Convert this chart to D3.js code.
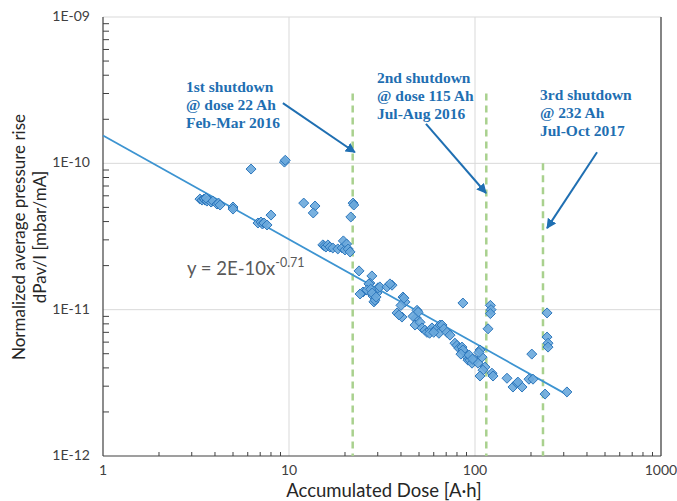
<!DOCTYPE html>
<html><head><meta charset="utf-8">
<script src="https://cdn.jsdelivr.net/npm/d3@7"></script>
<style>body{margin:0;background:#fff}svg{display:block}</style>
</head><body>
<svg id="c" width="677" height="501"></svg>
<script>
// ---- data ----
const doseAh = [
 3.32,3.41,3.49,3.54,3.62,3.71,3.81,3.90,3.58,
 4.10,4.18,4.26,5.00,5.00,6.25,
 6.81,7.07,7.20,7.34,7.62,8.00,9.45,9.55,
 12.0,13.8,13.5,
 15.2,15.5,15.8,16.2,16.6,17.2,18.3,19.3,20.0,19.6,20.4,20.8,21.3,
 22.1,22.3,21.5,
 23.8,27.9,27.2,26.9,25.0,24.1,26.3,28.3,28.6,29.0,29.7,30.1,30.8,33.6,35.8,34.9,27.5,28.0,29.4,
 41.0,42.0,41.5,40.0,38.1,40.5,39.0,
 48.8,48.2,49.4,47.6,50.6,46.4,
 51.9,53.8,55.2,57.3,58.7,61.0,62.5,63.3,64.0,64.8,66.5,68.1,70.7,73.4,57.0,60.0,
 86.1,
 78.0,80.0,82.0,85.1,88.3,90.6,91.7,94.0,96.4,100,103.8,106.4,109.1,113.2,110.4,106.4,86.1,84.0,93.0,97.0,105.0,
 121,122,121,117.5,123.4,125.0,
 148.6,160,168,179,170,195,205,202,
 244,244,247,247,238,312
];
const pressureRise = [
 5.70e-11,5.61e-11,5.70e-11,5.61e-11,5.52e-11,5.61e-11,5.44e-11,5.52e-11,5.79e-11,
 5.27e-11,5.35e-11,5.19e-11,5.03e-11,4.87e-11,9.14e-11,
 3.91e-11,3.97e-11,3.85e-11,3.91e-11,3.79e-11,4.43e-11,1.02e-10,1.05e-10,
 5.35e-11,5.11e-11,4.58e-11,
 2.77e-11,2.72e-11,2.68e-11,2.77e-11,2.68e-11,2.64e-11,2.60e-11,2.64e-11,2.56e-11,2.95e-11,2.81e-11,2.60e-11,2.48e-11,
 5.35e-11,5.19e-11,4.30e-11,
 1.84e-11,1.70e-11,1.52e-11,1.50e-11,1.32e-11,1.28e-11,1.36e-11,1.24e-11,1.13e-11,1.16e-11,1.30e-11,1.41e-11,1.43e-11,1.43e-11,1.47e-11,1.50e-11,1.38e-11,1.30e-11,1.22e-11,
 1.22e-11,1.13e-11,1.20e-11,1.07e-11,9.5e-12,8.9e-12,9.2e-12,
 9.9e-12,8.8e-12,9.6e-12,7.85e-12,8.2e-12,9.0e-12,
 7.5e-12,7.25e-12,7.0e-12,7.25e-12,7.5e-12,7.25e-12,7.5e-12,7.6e-12,6.9e-12,7.85e-12,7.85e-12,7.4e-12,7.0e-12,6.7e-12,6.9e-12,7.0e-12,
 1.11e-11,
 5.9e-12,5.7e-12,5.45e-12,5.55e-12,5.05e-12,4.74e-12,4.52e-12,4.52e-12,4.31e-12,4.52e-12,4.31e-12,5.3e-12,4.74e-12,4.05e-12,3.86e-12,3.52e-12,5.3e-12,4.97e-12,4.9e-12,4.6e-12,5.1e-12,
 1.07e-11,1.0e-11,9.4e-12,7.4e-12,3.68e-12,3.52e-12,
 3.40e-12,2.96e-12,3.15e-12,2.96e-12,3.20e-12,3.35e-12,3.35e-12,4.97e-12,
 9.5e-12,6.5e-12,5.9e-12,5.55e-12,2.65e-12,2.74e-12
];
const trendCoef = 1.55e-10, trendExp = -0.71, trendRange = [1, 305];
const xTickValues = [1, 10, 100, 1000];
const xTickLabels = ["1", "10", "100", "1000"];
const yTickValues = [1e-12, 1e-11, 1e-10, 1e-9];
const yTickLabels = ["1E-12", "1E-11", "1E-10", "1E-09"];
const shutdownDose = [22, 115, 232];
const shutdownTop = [3e-10, 3e-10, 1e-10];
const shutdownText = [
 ["1st shutdown", "@ dose 22 Ah", "Feb-Mar 2016"],
 ["2nd shutdown", "@ dose 115 Ah", "Jul-Aug 2016"],
 ["3rd shutdown", "@ 232 Ah", "Jul-Oct 2017"]
];
const arrowFrom = [[9.27, 2.58e-10], [54.5, 1.86e-10], [453, 1.19e-10]];
const arrowTo = [[22.6, 1.19e-10], [114.6, 6.27e-11], [244, 3.61e-11]];

// ---- chart ----
const W = 677, H = 501;
const m = {l: 103, r: 16, t: 17, b: 45};
const svg = d3.select("#c");
const x = d3.scaleLog().domain([1, 1000]).range([m.l, W - m.r]);
const y = d3.scaleLog().domain([1e-12, 1e-9]).range([H - m.b, m.t]);
const font = "Lato, 'Open Sans', sans-serif";

// gridlines
svg.append("g").selectAll("line").data(xTickValues.slice(1)).join("line")
 .attr("x1", d => x(d)).attr("x2", d => x(d)).attr("y1", y(1e-12)).attr("y2", y(1e-9))
 .attr("stroke", "#d9d9d9").attr("stroke-width", 1);
svg.append("g").selectAll("line").data(yTickValues.slice(1)).join("line")
 .attr("x1", x(1)).attr("x2", x(1000)).attr("y1", d => y(d)).attr("y2", d => y(d))
 .attr("stroke", "#d9d9d9").attr("stroke-width", 1);
svg.append("line").attr("x1", x(1000)).attr("x2", x(1000)).attr("y1", y(1e-12)).attr("y2", y(1e-9))
 .attr("stroke", "#404040").attr("stroke-width", 1.2);

// minor ticks
const xMinor = [], yMinor = [];
for (let e = 0; e < 3; e++) for (let k = 2; k <= 9; k++) xMinor.push(k * Math.pow(10, e));
for (let e = -12; e < -9; e++) for (let k = 2; k <= 9; k++) yMinor.push(k * Math.pow(10, e));
svg.append("g").selectAll("line").data(xMinor).join("line")
 .attr("x1", d => x(d)).attr("x2", d => x(d)).attr("y1", y(1e-12)).attr("y2", y(1e-12) - 4)
 .attr("stroke", "#404040");
svg.append("g").selectAll("line").data(yMinor).join("line")
 .attr("x1", x(1)).attr("x2", x(1) + 6).attr("y1", d => y(d)).attr("y2", d => y(d))
 .attr("stroke", "#404040");

// axes lines
svg.append("line").attr("x1", x(1)).attr("x2", x(1000)).attr("y1", y(1e-12)).attr("y2", y(1e-12))
 .attr("stroke", "#404040").attr("stroke-width", 1.2);
svg.append("line").attr("x1", x(1)).attr("x2", x(1)).attr("y1", y(1e-12)).attr("y2", y(1e-9))
 .attr("stroke", "#404040").attr("stroke-width", 1.2);

// tick labels
svg.append("g").selectAll("text").data(xTickValues).join("text")
 .attr("x", d => x(d)).attr("y", y(1e-12) + 19).attr("text-anchor", "middle")
 .attr("font-family", font).attr("font-size", 14).attr("fill", "#404040")
 .text((d, i) => xTickLabels[i]);
svg.append("g").selectAll("text").data(yTickValues).join("text")
 .attr("x", x(1) - 13).attr("y", d => y(d) + 4).attr("text-anchor", "end")
 .attr("font-family", font).attr("font-size", 14).attr("fill", "#404040")
 .text((d, i) => yTickLabels[i]);

// axis titles
svg.append("text").attr("x", 384).attr("y", 497).attr("text-anchor", "middle")
 .attr("font-family", font).attr("font-size", 18.5).attr("fill", "#262626")
 .text("Accumulated Dose [A·h]");
const yt = svg.append("text").attr("transform", "translate(25,237) rotate(-90)")
 .attr("text-anchor", "middle").attr("font-family", font).attr("font-size", 17).attr("fill", "#262626");
yt.append("tspan").attr("x", 0).attr("dy", 0).text("Normalized average pressure rise");
yt.append("tspan").attr("x", 0).attr("dy", 21).text("dPav/I [mbar/mA]");

// shutdown dashed lines
svg.append("g").selectAll("line").data(shutdownDose).join("line")
 .attr("x1", d => x(d)).attr("x2", d => x(d)).attr("y1", (d, i) => y(shutdownTop[i])).attr("y2", y(1e-12))
 .attr("stroke", "#a9d18e").attr("stroke-width", 2.5).attr("stroke-dasharray", "7,5");

// trend line
svg.append("line")
 .attr("x1", x(trendRange[0])).attr("y1", y(trendCoef * Math.pow(trendRange[0], trendExp)))
 .attr("x2", x(trendRange[1])).attr("y2", y(trendCoef * Math.pow(trendRange[1], trendExp)))
 .attr("stroke", "#3d94d1").attr("stroke-width", 1.8);

// points
const diamond = d3.symbol().type(d3.symbolDiamond2).size(64);
svg.append("g").selectAll("path").data(doseAh.map((d, i) => [d, pressureRise[i]])).join("path")
 .attr("d", diamond)
 .attr("transform", d => `translate(${x(d[0])},${y(d[1])})`)
 .attr("fill", "#6aa8dc").attr("fill-opacity", 0.9)
 .attr("stroke", "#2e78bd").attr("stroke-width", 1);

// equation
const eq = svg.append("text").attr("x", 187).attr("y", 275)
 .attr("font-family", font).attr("font-size", 18.5).attr("fill", "#595959");
eq.append("tspan").text("y = 2E-10x");
eq.append("tspan").attr("dy", -8).attr("font-size", 12.5).text("-0.71");

// annotations
const annX = [186, 377, 540], annY = [92, 83, 100];
shutdownText.forEach((lines, i) => {
 const t = svg.append("text").attr("x", annX[i]).attr("y", annY[i])
  .attr("font-family", "'Liberation Serif', 'Times New Roman', serif").attr("font-weight", "bold")
  .attr("font-size", 15.5).attr("fill", "#1f6fb2");
 lines.forEach((s, j) => t.append("tspan").attr("x", annX[i]).attr("dy", j ? 18 : 0).text(s));
});
svg.append("defs").append("marker").attr("id", "ah").attr("viewBox", "0 0 10 10")
 .attr("refX", 9).attr("refY", 5).attr("markerWidth", 5).attr("markerHeight", 5)
 .attr("orient", "auto").append("path").attr("d", "M0,0L10,5L0,10z").attr("fill", "#1f6fb2");
svg.append("g").selectAll("line").data(arrowFrom).join("line")
 .attr("x1", d => x(d[0])).attr("y1", d => y(d[1]))
 .attr("x2", (d, i) => x(arrowTo[i][0])).attr("y2", (d, i) => y(arrowTo[i][1]))
 .attr("stroke", "#1f6fb2").attr("stroke-width", 2).attr("marker-end", "url(#ah)");
</script>
</body></html>
